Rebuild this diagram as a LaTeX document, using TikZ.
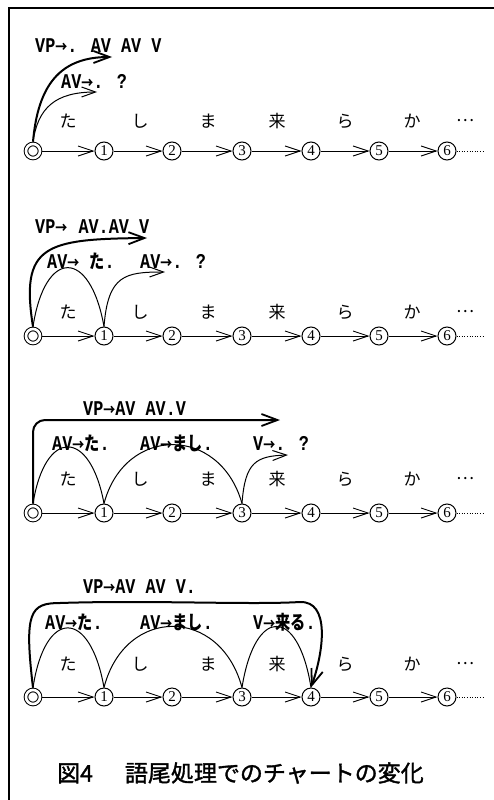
\documentclass[tikz,border=0pt]{standalone}
\usepackage{fontspec}
\setmainfont{Liberation Serif}
\newfontfamily\jp{Noto Sans CJK JP}
\newfontfamily\jpcap[FakeBold=1.5]{Noto Sans CJK JP}
\newfontfamily\labfont{Liberation Mono}
\usetikzlibrary{arrows.meta}
\newcommand\lb[1]{\scalebox{0.8}[1]{#1}}
\newcommand\lj[1]{{\jp\fontsize{19}{19}\selectfont #1}}
\newcommand\ar{{\jp\fontsize{15}{15}\selectfont →}}
\tikzset{
  st/.style={circle,draw,line width=1pt,minimum size=18pt,inner sep=0pt,font=\fontsize{15}{15}\selectfont},
  stz/.style={circle,draw,double,double distance=2.6pt,line width=1pt,minimum size=14pt,inner sep=0pt,outer sep=2.3pt},
  edgearr/.style={line width=0.9pt,-{Straight Barb[length=15pt,width=10pt,line width=0.9pt]}},
  thickarr/.style={line width=2pt,-{Straight Barb[length=16pt,width=12pt,line width=1.8pt]}},
  thinarr/.style={line width=1pt,-{Straight Barb[length=14pt,width=10pt,line width=1pt]}},
  thinarc/.style={line width=1pt},
  lab/.style={font=\labfont\bfseries\fontsize{21}{21}\selectfont,inner sep=0pt,anchor=west},
  kana/.style={font=\jp\fontsize{17}{17}\selectfont,inner sep=0pt},
  frame/.style={line width=1.5pt}
}
\newcommand\chartrow[3]{%
  \node[stz] (#1n0) at (33,#2) {};
  \node[st] (#1n1) at (104,#2) {1};
  \node[st] (#1n2) at (172,#2) {2};
  \node[st] (#1n3) at (242,#2) {3};
  \node[st] (#1n4) at (311,#2) {4};
  \node[st] (#1n5) at (379,#2) {5};
  \node[st] (#1n6) at (447,#2) {6};
  \coordinate (#1end) at (484,#2);
  \draw[edgearr] (#1n0) -- (#1n1);
  \draw[edgearr] (#1n1) -- (#1n2);
  \draw[edgearr] (#1n2) -- (#1n3);
  \draw[edgearr] (#1n3) -- (#1n4);
  \draw[edgearr] (#1n4) -- (#1n5);
  \draw[edgearr] (#1n5) -- (#1n6);
  \draw[dotted,line width=0.6pt] (#1n6) -- (#1end);
  \node[kana] (#1k1) at (68,#3) {た};
  \node[kana] (#1k2) at (140,#3) {し};
  \node[kana] (#1k3) at (208,#3) {ま};
  \node[kana] (#1k4) at (277,#3) {来};
  \node[kana] (#1k5) at (345,#3) {ら};
  \node[kana] (#1k6) at (412,#3) {か};
  \node[kana] (#1k7) at (465,#3) {…};
}
\begin{document}
\begin{tikzpicture}[x=1pt,y=-1pt]
\useasboundingbox (0,0) rectangle (494,800);
% frame
\coordinate (fbl) at (9,800);
\coordinate (ftl) at (9,8);
\coordinate (ftr) at (494,8);
\draw[frame] (fbl) -- (ftl) -- (ftr);

% ---------- panel 1
\chartrow{p1}{151}{121}
\node[lab] (p1vp) at (35,46) {\lb{VP\ar. AV AV V}};
\node[lab] (p1av) at (61,81) {\lb{AV\ar. ?}};
\coordinate (p1a) at (112,57);
\coordinate (p1b) at (97,92);
\draw[thickarr] (p1n0.north) .. controls (38,85) and (60,57) .. (p1a);
\draw[thinarr] (p1n0.north) .. controls (38,108) and (55,92) .. (p1b);

% ---------- panel 2
\chartrow{p2}{336}{312}
\node[lab] (p2vp) at (35,227) {\lb{VP\ar\hspace{14pt}AV.AV V}};
\node[lab] (p2av1) at (47,261) {\lb{AV\ar\ \lj{た}.}};
\node[lab] (p2av2) at (140,261) {\lb{AV\ar. ?}};
\coordinate (p2a) at (147,238);
\coordinate (p2b) at (165,272);
\draw[thickarr] (p2n0.north) .. controls (20,245) and (45,239) .. (p2a);
\draw[thinarc] (p2n0.north) .. controls (45,248) and (90,248) .. (p2n1.north);
\draw[thinarr] (p2n1.north) .. controls (108,275) and (125,272) .. (p2b);

% ---------- panel 3
\chartrow{p3}{513}{479}
\node[lab] (p3vp) at (83,409) {\lb{VP\ar AV AV.V}};
\node[lab] (p3av1) at (52,443) {\lb{AV\ar\lj{た}.}};
\node[lab] (p3av2) at (140,443) {\lb{AV\ar\lj{まし}.}};
\node[lab] (p3v) at (253,443) {\lb{V\ar. ?}};
\coordinate (p3a) at (280,420);
\coordinate (p3b) at (288,455);
\draw[thickarr,rounded corners=12pt] (p3n0.north) |- (p3a);
\draw[thinarc] (p3n0.north) .. controls (45,428) and (90,428) .. (p3n1.north);
\draw[thinarc] (p3n1.north) .. controls (125,425) and (220,425) .. (p3n3.north);
\draw[thinarr] (p3n3.north) .. controls (245,462) and (256,456) .. (p3b);

% ---------- panel 4
\chartrow{p4}{697}{664}
\node[lab] (p4vp) at (83,587) {\lb{VP\ar AV AV V.}};
\node[lab] (p4av1) at (45,622) {\lb{AV\ar\lj{た}.}};
\node[lab] (p4av2) at (140,622) {\lb{AV\ar\lj{まし}.}};
\node[lab] (p4v) at (253,622) {\lb{V\ar\lj{来る}.}};
\draw[thickarr] (p4n0.north) .. controls (24,612) and (30,603) .. (60,603)
   .. controls (150,600) and (250,605) .. (300,602)
   .. controls (330,601) and (324,650) .. (p4n4.north);
\draw[thinarc] (p4n0.north) .. controls (45,608) and (90,608) .. (p4n1.north);
\draw[thinarc] (p4n1.north) .. controls (125,606) and (220,606) .. (p4n3.north);
\draw[thinarc] (p4n3.north) .. controls (255,606) and (298,606) .. (p4n4.north);

% caption
\node[anchor=west,inner sep=0pt,font=\jpcap\fontsize{23}{23}\selectfont] (cap) at (57,773) {図4\hspace{32pt}語尾処理でのチャートの変化};
\end{tikzpicture}
\end{document}
